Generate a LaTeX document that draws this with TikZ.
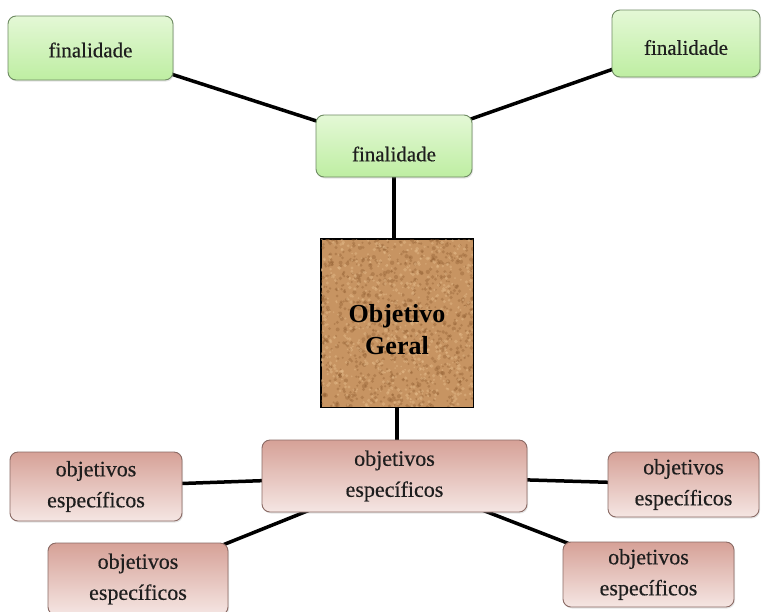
\documentclass[tikz,border=0pt]{standalone}
\usepackage{fontspec}
\setmainfont{Liberation Serif}
\newfontfamily\boxfont[FakeBold=0.4]{Liberation Serif}
\usetikzlibrary{backgrounds,shadows}
\definecolor{gtop}{HTML}{E4F8D6}
\definecolor{gbot}{HTML}{BEEEA2}
\definecolor{gline}{HTML}{6E8A62}
\definecolor{ptop}{HTML}{D6A197}
\definecolor{pbot}{HTML}{F5E6E3}
\definecolor{pline}{HTML}{8A6A64}
\definecolor{cork}{HTML}{C79462}
\definecolor{corkdark}{HTML}{8C5A2E}
\definecolor{corklight}{HTML}{E6BD8C}
\definecolor{txt}{HTML}{1E1E1E}
\begin{document}
\begin{tikzpicture}[x=1pt,y=-1pt,
 box/.style={draw, line width=0.9pt, rounded corners=8pt, align=center, text=txt, inner sep=0pt,
   drop shadow={shadow xshift=1pt, shadow yshift=-1.5pt, opacity=0.2}},
 greenbox/.style={box, draw=gline, top color=gtop, bottom color=gbot, font=\boxfont\fontsize{21}{25}\selectfont},
 pinkbox/.style={box, draw=pline, top color=ptop, bottom color=pbot, font=\boxfont\fontsize{22}{31}\selectfont},
 lbl/.style={align=center, text=txt, inner sep=0pt},
 link/.style={line width=3.5pt, black},
]
\useasboundingbox (0,0) rectangle (762,611);

% finalidade boxes
\node[greenbox, minimum width=165pt, minimum height=64pt, text depth=0pt] (fl1) at (90.5,48) {};
\node[lbl, font=\boxfont\fontsize{21}{25}\selectfont] (fl1t) at ([yshift=-2pt]fl1.center) {finalidade};
\node[greenbox, minimum width=156pt, minimum height=62pt] (fl2) at (394,146) {};
\node[lbl, font=\boxfont\fontsize{21}{25}\selectfont] (fl2t) at ([yshift=-8pt]fl2.center) {finalidade};
\node[greenbox, minimum width=148pt, minimum height=67pt] (fl3) at (686,43.5) {};
\node[lbl, font=\boxfont\fontsize{21}{25}\selectfont] (fl3t) at ([yshift=-4pt]fl3.center) {finalidade};

% objetivo geral (cork)
\node[draw=black, line width=1pt, fill=cork, minimum width=152pt, minimum height=168pt, inner sep=0pt] (geral) at (397,323) {};
\begin{scope}
  \clip (geral.north west) rectangle (geral.south east);
  \pgfmathsetseed{11}
  \foreach \i in {1,...,900}{
    \pgfmathsetmacro{\px}{397+78*rand}
    \pgfmathsetmacro{\py}{323+86*rand}
    \pgfmathsetmacro{\pr}{1+1.2*abs(rand)}
    \fill[corkdark, opacity=0.35] (\px,\py) circle[radius=\pr];
  }
  \foreach \i in {1,...,700}{
    \pgfmathsetmacro{\px}{397+78*rand}
    \pgfmathsetmacro{\py}{323+86*rand}
    \pgfmathsetmacro{\pr}{0.8+1.2*abs(rand)}
    \fill[corklight, opacity=0.45] (\px,\py) circle[radius=\pr];
  }
\end{scope}
\draw[line width=1pt] (geral.north west) rectangle (geral.south east);
\node[font=\bfseries\fontsize{26}{32}\selectfont, text=black, align=center] (geraltxt) at ([yshift=-7pt]geral.center) {Objetivo\\Geral};

% objetivos especificos
\node[pinkbox, minimum width=265pt, minimum height=72pt] (oe0) at (394.5,476) {objetivos\\específicos};
\node[pinkbox, minimum width=172pt, minimum height=69pt] (oe1) at (96,486.5) {objetivos\\específicos};
\node[pinkbox, minimum width=180pt, minimum height=72pt] (oe2) at (138,579) {objetivos\\específicos};
\node[pinkbox, minimum width=151pt, minimum height=65pt] (oe3) at (683.5,484.5) {objetivos\\específicos};
\node[pinkbox, minimum width=171pt, minimum height=65pt] (oe4) at (648.5,574.5) {objetivos\\específicos};

\begin{pgfonlayer}{background}
  \fill[white] (0,0) rectangle (762,611);
  \draw[link] (fl1.center) -- (fl2.center);
  \draw[link] (fl3.center) -- (fl2.center);
  \draw[link] (fl2.center) -- (fl2.center |- geral.north);
  \draw[link] (geral.center) -- (geral.center |- oe0.center);
  \draw[link] (oe1.center) -- (oe0.center);
  \draw[link] (oe0.center) -- (oe3.center);
  \draw[link] (oe0.center) -- (oe2.center);
  \draw[link] (oe0.center) -- (oe4.center);
\end{pgfonlayer}
\end{tikzpicture}
\end{document}
